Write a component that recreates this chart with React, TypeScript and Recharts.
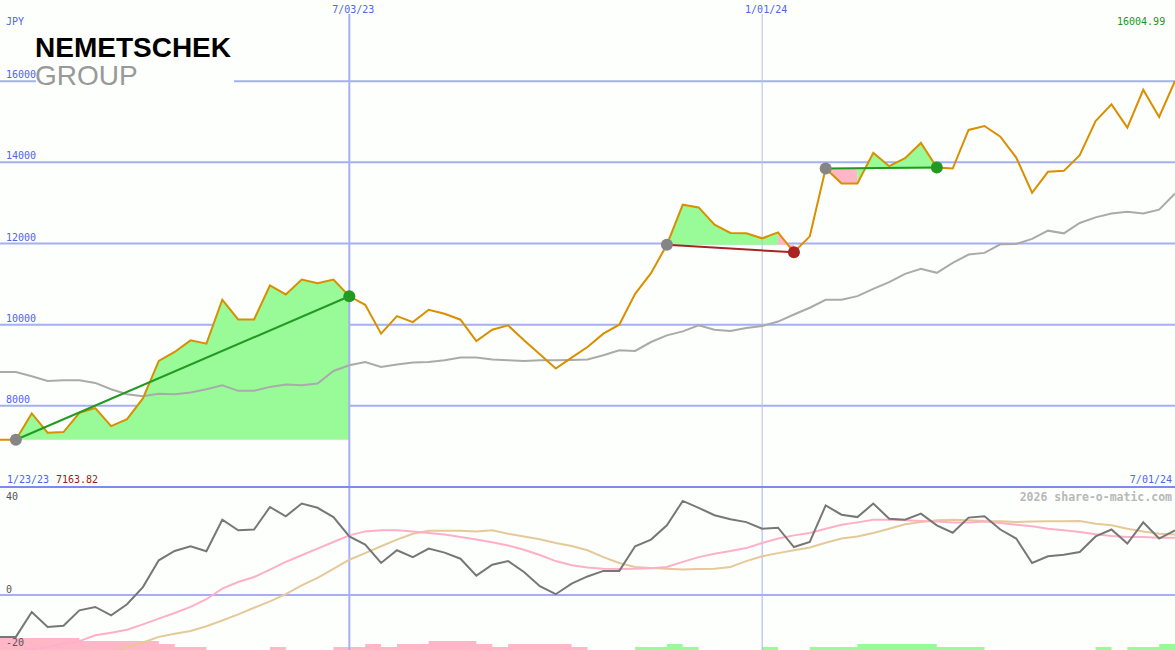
import React from 'react';
import {
    ComposedChart,
    Line,
    Area,
    XAxis,
    YAxis,
    CartesianGrid,
    ReferenceLine,
    ReferenceDot,
} from 'recharts';

const W = 1175;
const TOP_H = 487;
const BOTTOM_H = 163;

const BG = '#fcfffc';
const GRID = '#a5aff2';
const BLUE_TEXT = '#5064ee';
const MONO = '"DejaVu Sans Mono", monospace';
const UP_FILL = '#98fb98';
const DOWN_FILL = '#ffb6c6';

// weekly closes, week 0 = first visible week
const rangeStart = '1/23/23';
const rangeEnd = '7/01/24';
const monthMarks = [
    { week: 22, label: '7/03/23' },
    { week: 48, label: '1/01/24' },
];

const price = [
    7163.82, 7163.82, 7813, 7337, 7354, 7828, 7943, 7501, 7673, 8182,
    9106, 9327, 9614, 9533, 10614, 10130, 10130, 10966, 10745, 11113,
    11022, 11113, 10700, 10491, 9779, 10211, 10064, 10368, 10270, 10123,
    9597, 9877, 9983, 9614, 9270, 8919, 9189, 9450, 9779, 10000,
    10761, 11268, 11970, 12956, 12890, 12465, 12260, 12251, 12128, 12275,
    11784, 12177, 13848, 13479, 13479, 14233, 13906, 14103, 14479, 13872,
    13848, 14799, 14897, 14634, 14118, 13251, 13767, 13791, 14177, 15020,
    15430, 14855, 15789, 15118, 16004.99,
];

const avg = [
    8835, 8835, 8730, 8614, 8631, 8631, 8565, 8410, 8287, 8238,
    8295, 8287, 8328, 8410, 8509, 8369, 8369, 8467, 8526, 8509,
    8550, 8860, 9000, 9081, 8958, 9017, 9070, 9081, 9123, 9189,
    9189, 9140, 9123, 9106, 9123, 9123, 9130, 9140, 9246, 9369,
    9352, 9573, 9737, 9835, 9983, 9877, 9843, 9917, 9966, 10077,
    10250, 10418, 10614, 10614, 10703, 10884, 11047, 11253, 11376, 11278,
    11523, 11727, 11769, 11980, 11990, 12113, 12317, 12251, 12506, 12644,
    12742, 12784, 12742, 12833, 13234,
];

const priceTicks = [8000, 10000, 12000, 14000, 16000];

// trend segments: start week -> end week
const trends = [
    { from: 1, to: 22 },
    { from: 42, to: 50 },
    { from: 52, to: 59 },
];

const oscillator = [
    -15.8, -15.8, -6.4, -12.1, -11.6, -5.8, -4.5, -7.7, -3.5, 3.0,
    13.1, 16.6, 18.4, 16.5, 28.4, 24.4, 24.7, 33.2, 29.7, 34.5,
    32.9, 29.4, 22.1, 19.0, 12.1, 16.9, 14.3, 17.5, 16.0, 13.7,
    7.3, 11.4, 12.8, 8.7, 3.3, 0.3, 4.3, 7.0, 9.1, 9.1,
    18.4, 20.9, 26.3, 35.5, 32.9, 30.1, 28.6, 27.5, 25.0, 25.4,
    18.1, 20.0, 33.8, 30.3, 29.4, 34.5, 28.8, 28.4, 30.7, 26.3,
    23.5, 29.2, 29.7, 24.7, 21.3, 12.1, 14.6, 15.2, 16.2, 22.1,
    24.7, 19.4, 27.4, 21.3, 24.4,
];

const fastSignal = [
    -22.5, -21.5, -20.5, -19.5, -18.5, -17.4, -15.2, -14.2, -13.1, -11.1,
    -8.9, -6.8, -4.5, -1.6, 2.4, 4.9, 6.8, 9.6, 12.5, 15.0,
    17.5, 20.0, 22.5, 24.0, 24.4, 24.4, 24.0, 23.4, 22.8, 21.9,
    20.9, 19.9, 18.7, 17.1, 15.1, 12.8, 11.2, 10.4, 9.9, 9.8,
    9.9, 10.1, 10.6, 12.5, 14.3, 15.6, 16.6, 17.7, 19.6, 21.3,
    22.5, 23.4, 25.0, 26.5, 27.4, 28.4, 28.4, 28.2, 27.9, 27.7,
    27.4, 27.4, 27.7, 27.2, 26.5, 25.9, 25.0, 24.4, 23.8, 22.9,
    22.3, 21.9, 21.9, 21.6, 21.6,
];

const slowSignal = [
    null, null, null, null, null, null, null, -21.5, -19.6, -17.9,
    -15.8, -14.6, -13.6, -11.8, -9.6, -7.3, -4.8, -2.4, 0.3, 3.6,
    6.5, 9.9, 13.3, 15.8, 18.4, 20.9, 23.1, 24.2, 24.2, 24.2,
    24.0, 24.4, 23.1, 22.1, 21.0, 19.6, 18.5, 16.9, 14.3, 12.1,
    10.6, 10.2, 9.9, 9.6, 9.8, 9.9, 10.6, 12.8, 14.6, 15.8,
    16.9, 17.9, 19.7, 21.3, 22.1, 23.4, 25.0, 26.7, 27.5, 28.2,
    28.4, 28.2, 27.9, 27.8, 27.5, 27.7, 27.8, 27.8, 27.9, 26.9,
    26.3, 25.0, 24.0, 23.1, 22.8,
];

// histogram levels, negative = pink
const histogram = [
    -4, -4, -4, -4, -4, -3, -3, -3, -3, -3,
    -2, -1, -1, 0, 0, 0, 0, -1, 0, 0,
    0, -1, -1, -2, -1, -2, -2, -3, -3, -3,
    -2, -1, -2, -2, -2, -2, -1, 0, 0, 0,
    1, 1, 2, 1, 0, 0, 0, 0, 1, 0,
    0, 1, 1, 1, 2, 2, 2, 2, 2, 1,
    1, 1, 0, 0, 0, 0, 0, 0, 0, 1,
    0, 1, 1, 2, 2,
];

const oscTicks = [-20, 0, 40];

const rows: any[] = price.map((p, k) => ({
    week: k,
    price: p,
    avg: avg[k],
    osc: oscillator[k],
    fast: fastSignal[k],
    slow: slowSignal[k],
    histDown: Math.max(0, -histogram[k]),
    histUp: Math.max(0, histogram[k]),
}));

// shaded areas between price and the trend's start level, split by colour
const fillRuns: { key: string; up: boolean }[] = [];
trends.forEach((t, n) => {
    const base = price[t.from];
    rows[t.from][`trend${n}`] = base;
    rows[t.to][`trend${n}`] = price[t.to];
    let runStart = t.from;
    for (let k = t.from; k < t.to; k++) {
        const up = price[k + 1] >= base;
        const nextUp = k + 1 < t.to ? price[k + 2] >= base : null;
        if (nextUp !== up) {
            const key = `fill${fillRuns.length}`;
            for (let j = runStart; j <= k + 1; j++) rows[j][key] = [base, price[j]];
            fillRuns.push({ key, up });
            runStart = k + 1;
        }
    }
});

const PriceTick = (props: any) => (
    <text x={6} y={props.y - 3} fill={BLUE_TEXT} fontSize={10} fontFamily={MONO}>
        {props.payload.value}
    </text>
);

const OscTick = (props: any) => {
    const v = props.payload.value;
    return (
        <text x={6} y={v === 40 ? props.y + 11 : props.y - 2} fill="#555" fontSize={10} fontFamily={MONO}>
            {v}
        </text>
    );
};

export default function App() {
    return (
        <div style={{ position: 'absolute', left: 0, top: 0, width: W, height: 650, background: BG, overflow: 'hidden' }}>
            <div style={{ position: 'absolute', left: 0, top: 0 }}>
                <ComposedChart width={W} height={TOP_H} data={rows} margin={{ top: 14, right: 0, bottom: 0, left: 0 }}>
                    <CartesianGrid horizontal vertical={false} horizontalValues={priceTicks} stroke={GRID} strokeWidth={2} />
                    <XAxis dataKey="week" type="number" domain={[0, 74]} hide allowDataOverflow />
                    <YAxis
                        type="number"
                        domain={[6000, 17656]}
                        ticks={priceTicks}
                        interval={0}
                        mirror
                        axisLine={false}
                        tickLine={false}
                        tick={<PriceTick />}
                        allowDataOverflow
                    />
                    {monthMarks.map((m, i) => (
                        <ReferenceLine
                            key={m.label}
                            x={m.week}
                            stroke={i === 0 ? GRID : '#bcc0da'}
                            strokeWidth={i === 0 ? 2 : 1}
                            label={{ value: m.label, position: 'top', offset: 1, dx: 4, fill: BLUE_TEXT, fontSize: 10, fontFamily: MONO }}
                        />
                    ))}
                    {fillRuns.map(r => (
                        <Area
                            key={r.key}
                            dataKey={r.key}
                            type="linear"
                            stroke="none"
                            fill={r.up ? UP_FILL : DOWN_FILL}
                            fillOpacity={1}
                            dot={false}
                            activeDot={false}
                            isAnimationActive={false}
                        />
                    ))}
                    <Line dataKey="avg" type="linear" stroke="#aaaaaa" strokeWidth={2} dot={false} activeDot={false} isAnimationActive={false} />
                    <Line dataKey="price" type="linear" stroke="#da8f00" strokeWidth={2} dot={false} activeDot={false} isAnimationActive={false} />
                    {trends.map((t, n) => (
                        <Line
                            key={n}
                            dataKey={`trend${n}`}
                            type="linear"
                            connectNulls
                            stroke={price[t.to] >= price[t.from] ? '#229a22' : '#a52424'}
                            strokeWidth={2}
                            dot={false}
                            activeDot={false}
                            isAnimationActive={false}
                        />
                    ))}
                    {trends.map((t, n) => (
                        <ReferenceDot key={`s${n}`} x={t.from} y={price[t.from]} r={6} fill="#858585" stroke="none" />
                    ))}
                    {trends.map((t, n) => (
                        <ReferenceDot
                            key={`e${n}`}
                            x={t.to}
                            y={price[t.to]}
                            r={6}
                            fill={price[t.to] >= price[t.from] ? '#229922' : '#aa2222'}
                            stroke="none"
                        />
                    ))}
                </ComposedChart>
            </div>
            <div style={{ position: 'absolute', left: 0, top: TOP_H }}>
                <ComposedChart width={W} height={BOTTOM_H} data={rows} margin={{ top: 0, right: 0, bottom: 0, left: 0 }}>
                    <XAxis dataKey="week" type="number" domain={[0, 74]} hide allowDataOverflow />
                    <YAxis
                        yAxisId="osc"
                        type="number"
                        domain={[-20.75, 40.75]}
                        ticks={oscTicks}
                        interval={0}
                        mirror
                        axisLine={false}
                        tickLine={false}
                        tick={<OscTick />}
                        allowDataOverflow
                    />
                    <YAxis yAxisId="hist" type="number" domain={[0, BOTTOM_H / 3]} hide allowDataOverflow />
                    <ReferenceLine yAxisId="osc" y={0} stroke={GRID} strokeWidth={2} />
                    {monthMarks.map((m, i) => (
                        <ReferenceLine key={m.label} yAxisId="osc" x={m.week} stroke={GRID} strokeWidth={i === 0 ? 2 : 1} />
                    ))}
                    <Area yAxisId="hist" dataKey="histDown" type="stepAfter" stroke="none" fill={DOWN_FILL} fillOpacity={1} dot={false} activeDot={false} isAnimationActive={false} />
                    <Area yAxisId="hist" dataKey="histUp" type="stepAfter" stroke="none" fill={UP_FILL} fillOpacity={1} dot={false} activeDot={false} isAnimationActive={false} />
                    <Line yAxisId="osc" dataKey="slow" type="linear" stroke="#e5c999" strokeWidth={2} dot={false} activeDot={false} isAnimationActive={false} />
                    <Line yAxisId="osc" dataKey="fast" type="linear" stroke="#ffafc8" strokeWidth={2} dot={false} activeDot={false} isAnimationActive={false} />
                    <Line yAxisId="osc" dataKey="osc" type="linear" stroke="#777777" strokeWidth={2} dot={false} activeDot={false} isAnimationActive={false} />
                </ComposedChart>
            </div>
            <svg width={W} height={650} style={{ position: 'absolute', left: 0, top: 0, pointerEvents: 'none' }}>
                <rect x={0} y={486} width={W} height={2} fill="#7b8bf0" />
                <text x={6} y={25} fill={BLUE_TEXT} fontSize={10} fontFamily={MONO}>JPY</text>
                <text x={1117} y={25} fill="#189818" fontSize={10} fontFamily={MONO}>
                    {price[price.length - 1].toFixed(2)}
                </text>
                <text x={7} y={483} fill={BLUE_TEXT} fontSize={10} fontFamily={MONO}>{rangeStart}</text>
                <text x={56} y={483} fill="#a01c1c" fontSize={10} fontFamily={MONO}>{price[1].toFixed(2)}</text>
                <text x={1172} y={483} textAnchor="end" fill={BLUE_TEXT} fontSize={10} fontFamily={MONO}>{rangeEnd}</text>
                <text x={1172} y={501} textAnchor="end" fill="#b8b8b8" fontSize={11.5} fontWeight="bold" fontFamily={MONO}>
                    2026 share-o-matic.com
                </text>
                <rect x={36} y={30} width={198} height={58} fill={BG} />
                <text x={35} y={57} fill="#000" fontSize={28} fontWeight="bold" fontFamily='"Liberation Sans", Arial, sans-serif'>
                    NEMETSCHEK
                </text>
                <text x={35} y={85} fill="#999999" fontSize={28} fontFamily='"Liberation Sans", Arial, sans-serif'>
                    GROUP
                </text>
            </svg>
        </div>
    );
}
